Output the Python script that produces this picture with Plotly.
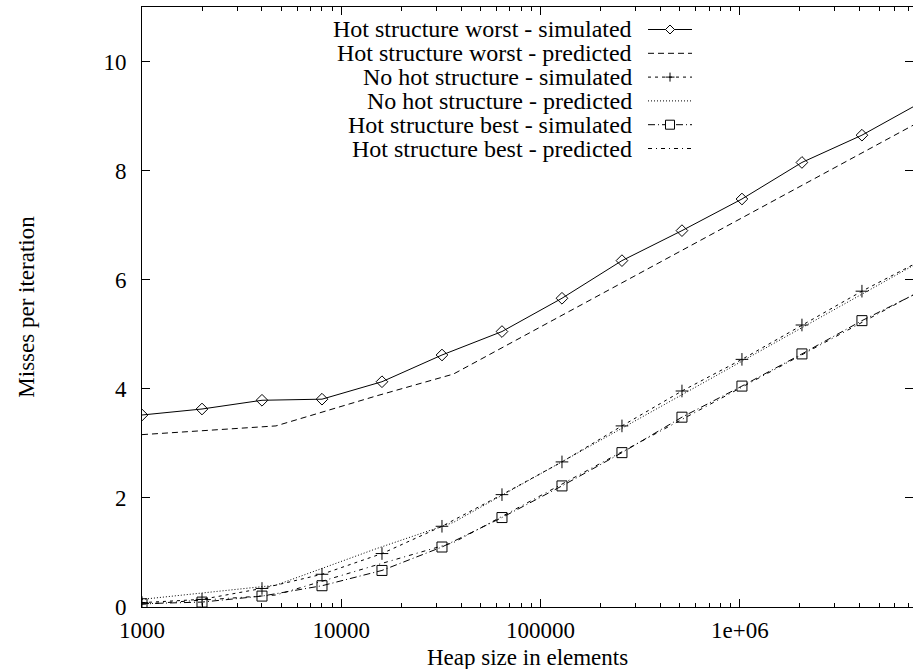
import plotly.graph_objects as go

# ---------------- data ----------------
heap_sizes = [1000, 2000, 4000, 8000, 16000, 32000, 64000, 128000, 256000,
              512000, 1024000, 2048000, 4096000, 8192000]
worst_sim = [3.52, 3.63, 3.79, 3.81, 4.13, 4.62, 5.05, 5.66, 6.35, 6.90, 7.48, 8.15, 8.65, 9.26]
nohot_sim = [0.08, 0.14, 0.34, 0.60, 0.98, 1.48, 2.06, 2.66, 3.32, 3.96, 4.54, 5.17, 5.79, 6.36]
best_sim = [0.06, 0.09, 0.20, 0.39, 0.67, 1.10, 1.64, 2.22, 2.83, 3.48, 4.05, 4.64, 5.25, 5.80]

pred_sizes = [1000, 4700, 15000, 36500, 8192000]
worst_pred = [3.16, 3.32, 3.87, 4.27, 8.92]
nohot_pred = [0.14, 0.40, 1.07, 1.55, 6.35]
best_pred = [0.05, 0.22, 0.77, 1.18, 5.81]

series_names = ["Hot structure worst - simulated", "Hot structure worst - predicted",
                "No hot structure - simulated", "No hot structure - predicted",
                "Hot structure best - simulated", "Hot structure best - predicted"]

x_major = [1000, 10000, 100000, 1000000]
x_major_text = ["1000", "10000", "100000", "1e+06"]
x_minor = [m * d for d in [1000, 10000, 100000, 1000000] for m in range(2, 10)]
y_ticks = [0, 2, 4, 6, 8, 10]

# ---------------- styling ----------------
FONT = "Liberation Serif"
FS = 24      # key text
FS_AX = 23   # tick labels and axis titles
W, H = 913, 669
ML, MR, MT, MB = 142, 0, 7, 62
PW, PH = W - ML - MR, H - MT - MB
DECADE_PX = 199.3
x_hi = 3 + PW / DECADE_PX

styles = [
    dict(dash="solid", symbol="diamond-open", size=9),
    dict(dash="6px,4px", symbol=None, size=0),
    dict(dash="3px,4px", symbol="cross-thin-open", size=9),
    dict(dash="1px,2px", symbol=None, size=0),
    dict(dash="7px,3px,1px,3px", symbol="square-open", size=10),
    dict(dash="4px,4px,1px,4px", symbol=None, size=0),
]
series_x = [heap_sizes, pred_sizes, heap_sizes, pred_sizes, heap_sizes, pred_sizes]
series_y = [worst_sim, worst_pred, nohot_sim, nohot_pred, best_sim, best_pred]

fig = go.Figure()
for name, xs, ys, st in zip(series_names, series_x, series_y, styles):
    mode = "lines+markers" if st["symbol"] else "lines"
    kw = dict(x=xs, y=ys, name=name, mode=mode, showlegend=False,
              line=dict(color="black", width=1, dash=st["dash"]))
    if st["symbol"]:
        kw["marker"] = dict(symbol=st["symbol"], size=st["size"], color="black",
                            line=dict(color="black", width=1))
    fig.add_trace(go.Scatter(**kw))

# invisible trace to activate minor-tick overlay axis
fig.add_trace(go.Scatter(x=[1000], y=[0], xaxis="x2", yaxis="y", mode="markers",
                         marker=dict(opacity=0), showlegend=False, hoverinfo="skip"))

axis_common = dict(showgrid=False, zeroline=False, showline=True, linecolor="black",
                   linewidth=1, mirror="ticks", ticks="inside", tickcolor="black",
                   tickfont=dict(family=FONT, size=FS_AX, color="black"))

fig.update_layout(
    width=W, height=H,
    margin=dict(l=ML, r=MR, t=MT, b=MB),
    paper_bgcolor="white", plot_bgcolor="white",
    font=dict(family=FONT, size=FS_AX, color="black"),
    xaxis=dict(type="log", range=[3, x_hi], tickvals=x_major, ticktext=x_major_text,
               ticklen=8, ticklabelstandoff=2, **axis_common),
    xaxis2=dict(type="log", range=[3, x_hi], overlaying="x", tickvals=x_minor,
                showticklabels=False, ticklen=4, showgrid=False, zeroline=False,
                showline=True, linecolor="black", linewidth=1, mirror="ticks",
                ticks="inside", tickcolor="black"),
    yaxis=dict(range=[0, 11], tickvals=y_ticks, ticklen=8, ticklabelstandoff=10,
               title=dict(text="Misses per iteration", font=dict(family=FONT, size=FS_AX), standoff=62),
               **axis_common),
    showlegend=False,
)

# ---------------- helpers: pixel -> paper ----------------
def px(xp):
    return (xp - ML) / PW

def py(yp):
    return (MT + PH - yp) / PH

annotations = [dict(x=0.5, y=py(657), xref="paper", yref="paper", text="Heap size in elements",
                    showarrow=False, xanchor="center", yanchor="middle",
                    font=dict(family=FONT, size=FS_AX, color="black"))]
shapes = []

# ---------------- gnuplot-style key (text left, sample right) ----------------
row0, row_dy = 29.5, 23.8
text_right = 634
samp_x0, samp_x1 = 648, 692
samp_mid = (samp_x0 + samp_x1) / 2
for i, (name, st) in enumerate(zip(series_names, styles)):
    yc = row0 + i * row_dy
    annotations.append(dict(x=px(text_right), y=py(yc), xref="paper", yref="paper",
                            text=name, showarrow=False, xanchor="right", yanchor="middle",
                            font=dict(family=FONT, size=FS, color="black")))
    shapes.append(dict(type="line", xref="paper", yref="paper",
                       x0=px(samp_x0), x1=px(samp_x1), y0=py(yc), y1=py(yc),
                       line=dict(color="black", width=1, dash=st["dash"])))
    common = dict(xref="paper", yref="paper", xsizemode="pixel", ysizemode="pixel",
                  xanchor=px(samp_mid), yanchor=py(yc),
                  line=dict(color="black", width=1))
    if st["symbol"] == "diamond-open":
        shapes.append(dict(type="path", path="M -4.5,0 L 0,4.5 L 4.5,0 L 0,-4.5 Z",
                           fillcolor="white", **common))
    elif st["symbol"] == "square-open":
        shapes.append(dict(type="rect", x0=-4.5, x1=4.5, y0=-4.5, y1=4.5,
                           fillcolor="white", **common))
    elif st["symbol"] == "cross-thin-open":
        shapes.append(dict(type="path", path="M -4.5,0 L 4.5,0 M 0,-4.5 L 0,4.5", **common))

fig.update_layout(annotations=annotations, shapes=shapes)

fig.write_html("out.html")
